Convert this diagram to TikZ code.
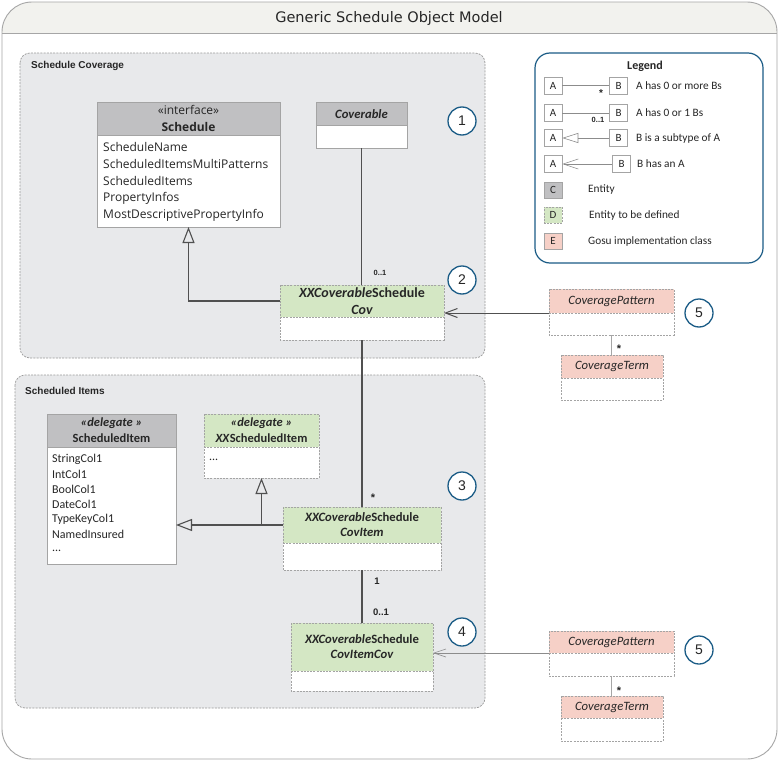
\documentclass[tikz,border=0pt]{standalone}
\usepackage{fontspec}
\setmainfont{Carlito}
\newfontfamily\segoef{Open Sans}
\newfontfamily\titlef{DejaVu Sans}
\newfontfamily\arialf{Liberation Sans}
\usetikzlibrary{arrows.meta}

\definecolor{grpfill}{HTML}{E8E9EB}
\definecolor{grpborder}{HTML}{9A9A9A}
\definecolor{entgray}{HTML}{C0C0C2}
\definecolor{entgreen}{HTML}{D4E7C4}
\definecolor{entpink}{HTML}{F6D0C7}
\definecolor{circblue}{HTML}{1B5C86}
\definecolor{linegray}{HTML}{505050}
\definecolor{boxborder}{HTML}{A4A4A4}
\definecolor{titlefill}{HTML}{F2F2EE}
\definecolor{txt}{HTML}{262626}

\newcommand{\umlbox}[8]{%
  \node[inner sep=0pt, outer sep=0pt, fill=white, anchor=north west,
        minimum width={(#4-#2)*1pt}, minimum height={(#5-#3)*1pt}] (#1) at (#2,#3) {};
  \node[inner sep=0pt, outer sep=0pt, fill=#7, anchor=north west,
        minimum width={(#4-#2)*1pt}, minimum height={(#6-#3)*1pt}] (#1h) at (#2,#3) {};
  \draw[#8] (#1.north west) rectangle (#1.south east);
  \draw[#8] (#1h.south west) -- (#1h.south east);
}

\tikzset{
  solidbox/.style={draw=boxborder, line width=0.8pt},
  dashbox/.style={draw=boxborder, line width=0.6pt, dash pattern=on 2pt off 1.2pt},
  grpbox/.style={draw=grpborder, fill=grpfill, line width=0.7pt, dash pattern=on 2pt off 1.2pt, rounded corners=10pt},
  grplabel/.style={font=\arialf\bfseries\fontsize{10}{12}\selectfont, anchor=west, text=txt, inner sep=0pt},
  numcirc/.style={circle, draw=circblue, line width=1.3pt, fill=white, minimum size=28pt, inner sep=0pt,
        font=\arialf\fontsize{14}{14}\selectfont, text=txt},
  conn/.style={draw=linegray, line width=1.2pt},
  gen/.style={conn, -{Triangle[open, length=16pt, width=12pt, line width=1.1pt]}},
  assoc/.style={draw=linegray, line width=1pt, -{Straight Barb[length=12pt, width=9pt, line width=1pt]}},
  assocthin/.style={draw=black!45, line width=0.6pt, -{Straight Barb[length=12pt, width=8pt, line width=0.6pt]}},
  termline/.style={draw=black!35, line width=1.6pt},
  mult/.style={font=\arialf\bfseries\fontsize{9.5}{10}\selectfont, text=txt, inner sep=0pt},
  multsmall/.style={font=\arialf\bfseries\fontsize{7.5}{9}\selectfont, text=txt, inner sep=0pt},
  segtxt/.style={font=\segoef\fontsize{12}{13}\selectfont, text=txt, inner sep=0pt},
  attr/.style={segtxt, anchor=west},
  cal/.style={font=\fontsize{12}{13}\selectfont, text=txt, inner sep=0pt},
  calattr/.style={cal, anchor=west},
  legtxt/.style={font=\fontsize{11.3}{13}\selectfont, text=txt, inner sep=0pt, anchor=west},
  legbox/.style={draw=boxborder, line width=0.6pt, fill=white, minimum width=18pt, minimum height=17pt, inner sep=0pt,
        font=\fontsize{11}{12}\selectfont, text=txt},
  legline/.style={draw=black!45, line width=0.6pt},
}

\begin{document}
\begin{tikzpicture}[x=1pt, y=-1pt]
\useasboundingbox (0,0) rectangle (780,771);
\fill[white] (0,0) rectangle (780,771);

% outer frame and title band
\begin{scope}
  \clip[rounded corners=30pt] (2,2) rectangle (777,759);
  \fill[titlefill] (2,2) rectangle (777,33);
\end{scope}
\draw[black!35, line width=0.9pt] (2,33) -- (777,33);
\draw[black!35, line width=0.9pt, rounded corners=30pt] (2,2) rectangle (777,759);
\node[font=\titlef\fontsize{14.5}{16}\selectfont, text=txt, inner sep=0pt] (title) at (389,18) {Generic Schedule Object Model};

% groups
\draw[grpbox] (20,53) rectangle (485,358);
\node[grplabel] (g1label) at (31,66) {Schedule Coverage};
\draw[grpbox] (15,375) rectangle (485,708);
\node[grplabel] (g2label) at (25,391) {Scheduled Items};

% Schedule
\umlbox{schedule}{97}{102}{280}{227}{135}{entgray}{solidbox}
\node[segtxt] (schedst) at (188.5,110) {«interface»};
\node[segtxt, font=\segoef\bfseries\fontsize{12}{13}\selectfont] (schedname) at (188.5,127) {Schedule};
\node[attr] (sa1) at (103,147) {ScheduleName};
\node[attr] (sa2) at (103,164) {ScheduledItemsMultiPatterns};
\node[attr] (sa3) at (103,181) {ScheduledItems};
\node[attr] (sa4) at (103,198) {PropertyInfos};
\node[attr] (sa5) at (103,215) {MostDescriptivePropertyInfo};

% Coverable
\umlbox{coverable}{316}{102}{407}{148}{125}{entgray}{solidbox}
\node[cal, font=\bfseries\itshape\fontsize{12.7}{14}\selectfont] (covname) at (361.5,114) {Coverable};

% XXCoverableScheduleCov
\umlbox{xcov}{280}{285}{444}{340}{317}{entgreen}{dashbox}
\node[cal, font=\bfseries\fontsize{14}{16}\selectfont] (xcovn1) at (362,293) {\textit{XXCoverable}Schedule};
\node[cal, font=\bfseries\itshape\fontsize{14}{16}\selectfont] (xcovn2) at (362,310) {Cov};

% ScheduledItem
\umlbox{scheditem}{47}{414}{176}{564}{447}{entgray}{solidbox}
\node[cal, font=\bfseries\itshape\fontsize{12.5}{14}\selectfont] (sist) at (111.5,423) {«delegate »};
\node[cal, font=\bfseries\fontsize{12.5}{14}\selectfont] (siname) at (111.5,438) {ScheduledItem};
\node[calattr] (si1) at (52,459) {StringCol1};
\node[calattr] (si2) at (52,474) {IntCol1};
\node[calattr] (si3) at (52,489) {BoolCol1};
\node[calattr] (si4) at (52,504) {DateCol1};
\node[calattr] (si5) at (52,519.5) {TypeKeyCol1};
\node[calattr] (si6) at (52,534.5) {NamedInsured};
\node[calattr] (si7) at (52,551) {...};

% XXScheduledItem
\umlbox{xxsched}{204}{414}{319}{478}{447}{entgreen}{dashbox}
\node[cal, font=\bfseries\itshape\fontsize{12.5}{14}\selectfont] (xsst) at (261.5,423) {«delegate »};
\node[cal, font=\bfseries\fontsize{12.5}{14}\selectfont] (xsname) at (261.5,438) {\textit{XX}ScheduledItem};
\node[calattr] (xs1) at (209,460) {...};

% XXCoverableScheduleCovItem
\umlbox{covitem}{283}{507}{441}{570}{543}{entgreen}{dashbox}
\node[cal, font=\bfseries\fontsize{12.7}{14}\selectfont] (cin1) at (362,517) {\textit{XXCoverable}Schedule};
\node[cal, font=\bfseries\itshape\fontsize{12.7}{14}\selectfont] (cin2) at (362,532) {CovItem};

% XXCoverableScheduleCovItemCov
\umlbox{covitemcov}{291}{623}{433}{691}{671}{entgreen}{dashbox}
\node[cal, font=\bfseries\fontsize{12.7}{14}\selectfont] (cicn1) at (362,639) {\textit{XXCoverable}Schedule};
\node[cal, font=\bfseries\itshape\fontsize{12.7}{14}\selectfont] (cicn2) at (362,654) {CovItemCov};

% CoveragePattern / CoverageTerm (top)
\umlbox{cpa}{549}{289}{674}{335}{313}{entpink}{dashbox}
\node[cal, font=\itshape\fontsize{12.7}{14}\selectfont] (cpan) at (611.5,301) {CoveragePattern};
\umlbox{cta}{561}{355}{663}{400}{378}{entpink}{dashbox}
\node[cal, font=\itshape\fontsize{12.7}{14}\selectfont] (ctan) at (612,366) {CoverageTerm};

% CoveragePattern / CoverageTerm (bottom)
\umlbox{cpb}{549}{631}{674}{676}{653}{entpink}{dashbox}
\node[cal, font=\itshape\fontsize{12.7}{14}\selectfont] (cpbn) at (611.5,642) {CoveragePattern};
\umlbox{ctb}{561}{696}{663}{741}{718}{entpink}{dashbox}
\node[cal, font=\itshape\fontsize{12.7}{14}\selectfont] (ctbn) at (612,707) {CoverageTerm};

% numbered circles
\node[numcirc] (n1) at (462,121) {1};
\node[numcirc] (n2) at (462,280) {2};
\node[numcirc] (n3) at (462,486) {3};
\node[numcirc] (n4) at (462,632) {4};
\node[numcirc] (n5a) at (699,313) {5};
\node[numcirc] (n5b) at (699,650) {5};

% connectors
\draw[conn] (coverable.south) -- (coverable.south |- xcov.north);
\draw[gen] (xcovh.west) -| (schedule.south);
\draw[conn] (xcov.south) -- (covitem.north);
\draw[assoc] (cpah.south west) -- (cpah.south west -| xcov.east);
\draw[gen] (covitemh.west) -- (covitemh.west -| scheditem.east);
\draw[gen] (covitemh.west -| xxsched.south) -- (xxsched.south);
\draw[conn] (covitem.south) -- (covitemcov.north);
\draw[assocthin] (cpbh.south west) -- (cpbh.south west -| covitemcov.east);
\draw[termline] (cpa.south) -- (cpa.south |- cta.north);
\draw[termline] (cpb.south) -- (cpb.south |- ctb.north);

% multiplicities
\node[multsmall] (m1) at (380,273) {0..1};
\node[mult, font=\arialf\bfseries\fontsize{11}{11}\selectfont] (m2) at (373,498) {*};
\node[mult] (m3) at (377,581) {1};
\node[mult] (m4) at (381,612) {0..1};
\node[mult, font=\arialf\bfseries\fontsize{11}{11}\selectfont] (m5) at (619,349) {*};
\node[mult, font=\arialf\bfseries\fontsize{11}{11}\selectfont] (m6) at (619,691) {*};

% legend
\draw[circblue, line width=1.2pt, fill=white, rounded corners=15pt] (535,53) rectangle (763,263);
\node[cal, font=\bfseries\fontsize{12}{14}\selectfont] (legtitle) at (645,66) {Legend};

\node[legbox] (la1) at (553,85.5) {A};
\node[legbox] (lb1) at (618.5,85.5) {B};
\draw[legline] (la1) -- (lb1);
\node[mult, font=\arialf\bfseries\fontsize{10}{10}\selectfont] (lm1) at (601,93) {*};
\node[legtxt] (lt1) at (636,85.5) {A has 0 or more Bs};

\node[legbox] (la2) at (553,113) {A};
\node[legbox] (lb2) at (618.5,113) {B};
\draw[legline] (la2) -- (lb2);
\node[multsmall] (lm2) at (598,120) {0..1};
\node[legtxt] (lt2) at (636,113) {A has 0 or 1 Bs};

\node[legbox] (la3) at (553,138) {A};
\node[legbox] (lb3) at (618.5,138) {B};
\draw[legline, -{Triangle[open, length=16pt, width=10pt, line width=0.6pt]}] (lb3) -- (la3);
\node[legtxt] (lt3) at (636,138) {B is a subtype of A};

\node[legbox] (la4) at (553,164) {A};
\node[legbox] (lb4) at (621.5,164) {B};
\draw[legline, -{Straight Barb[length=15pt, width=10pt, line width=0.6pt]}] (lb4) -- (la4);
\node[legtxt] (lt4) at (637,164) {B has an A};

\node[legbox, fill=entgray, minimum height=16pt] (lc) at (553,190) {C};
\node[legtxt] (ltc) at (588,190) {Entity};
\node[legbox, fill=entgreen, dash pattern=on 2pt off 1.2pt, minimum height=16pt] (ld) at (553,215) {D};
\node[legtxt] (ltd) at (589,215) {Entity to be defined};
\node[legbox, fill=entpink, minimum height=16pt] (le) at (553,241) {E};
\node[legtxt] (lte) at (588,241) {Gosu implementation class};
\end{tikzpicture}
\end{document}
